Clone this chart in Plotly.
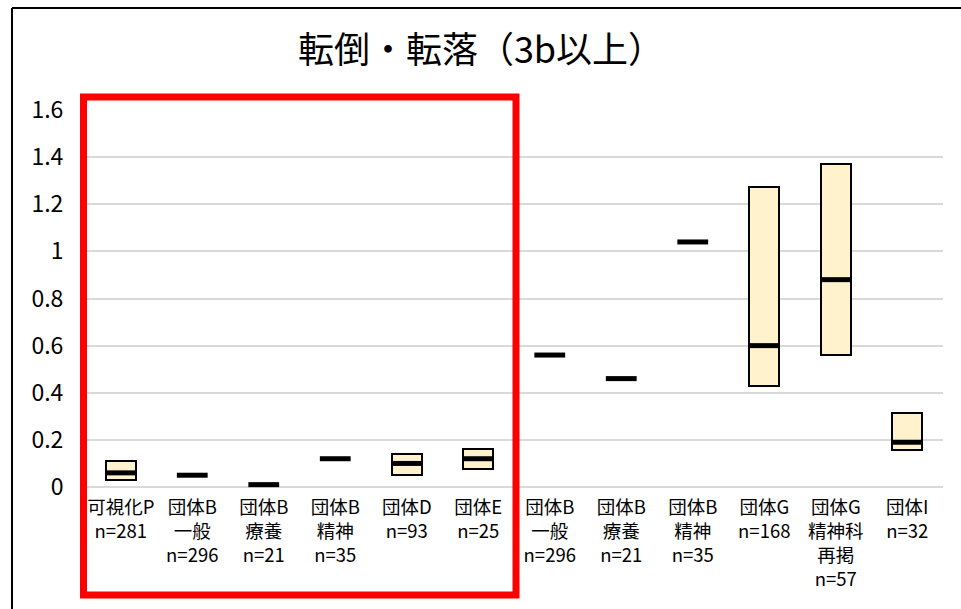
import plotly.graph_objects as go

# Groups (x categories)
labels = [
    "可視化P<br>n=281",
    "団体B<br>一般<br>n=296",
    "団体B<br>療養<br>n=21",
    "団体B<br>精神<br>n=35",
    "団体D<br>n=93",
    "団体E<br>n=25",
    "団体B<br>一般<br>n=296",
    "団体B<br>療養<br>n=21",
    "団体B<br>精神<br>n=35",
    "団体G<br>n=168",
    "団体G<br>精神科<br>再掲<br>n=57",
    "団体I<br>n=32",
]

# Range (low / high) and central value for each group
low = [0.03, 0.05, 0.01, 0.12, 0.05, 0.075, 0.56, 0.46, 1.04, 0.43, 0.56, 0.155]
high = [0.11, 0.05, 0.01, 0.12, 0.14, 0.16, 0.56, 0.46, 1.04, 1.275, 1.37, 0.315]
median = [0.06, 0.05, 0.01, 0.12, 0.10, 0.12, 0.56, 0.46, 1.04, 0.60, 0.88, 0.19]

y_ticks = [0, 0.2, 0.4, 0.6, 0.8, 1.0, 1.2, 1.4, 1.6]
y_tick_text = ["0", "0.2", "0.4", "0.6", "0.8", "1", "1.2", "1.4", "1.6"]

FONT = "Noto Sans CJK JP"
xs = list(range(len(labels)))

fig = go.Figure()

# Floating range boxes
fig.add_trace(go.Bar(
    x=xs,
    base=low,
    y=[h - l for h, l in zip(high, low)],
    width=0.42,
    marker=dict(color="#FFF2CC", line=dict(color="black", width=2)),
    hoverinfo="skip",
    showlegend=False,
))

# Central value bars (line-ew length is 1.4 x marker size)
fig.add_trace(go.Scatter(
    x=xs,
    y=median,
    mode="markers",
    marker=dict(symbol="line-ew", size=22, color="black",
                line=dict(color="black", width=5)),
    cliponaxis=False,
    showlegend=False,
))

W, H = 961, 609
ML, MR, MT, MB = 85, 18, 110, 122
pw, ph = W - ML - MR, H - MT - MB


def px_x(p):
    return (p - ML) / pw


def px_y(p):
    return (H - MB - p) / ph


shapes = [
    # outer frame (top and left edges)
    dict(type="line", xref="paper", yref="paper",
         x0=px_x(12), x1=px_x(12), y0=px_y(8), y1=px_y(640),
         line=dict(color="black", width=2)),
    dict(type="line", xref="paper", yref="paper",
         x0=px_x(12), x1=px_x(1000), y0=px_y(8), y1=px_y(8),
         line=dict(color="black", width=2)),
    # highlight box around the first six groups
    dict(type="rect", xref="paper", yref="paper",
         x0=px_x(83.5), x1=px_x(516), y0=px_y(595), y1=px_y(97),
         line=dict(color="#FF0000", width=7), fillcolor="rgba(0,0,0,0)"),
]

fig.update_layout(
    width=W, height=H,
    margin=dict(l=ML, r=MR, t=MT, b=MB),
    paper_bgcolor="white",
    plot_bgcolor="white",
    font=dict(family=FONT, color="black"),
    title=dict(text="転倒・転落（3b以上）", xref="container", x=481 / W,
               xanchor="center", yref="container", y=1 - 50 / H,
               yanchor="middle", font=dict(size=36, family=FONT)),
    bargap=0,
    shapes=shapes,
    showlegend=False,
)

fig.update_xaxes(
    range=[-0.5, len(labels) - 0.5],
    tickmode="array", tickvals=xs, ticktext=labels,
    tickfont=dict(size=18.5, family=FONT),
    tickangle=0,
    showgrid=False, zeroline=False, showline=False,
    ticks="outside", ticklen=4, tickcolor="rgba(0,0,0,0)",
)

fig.update_yaxes(
    range=[0, 1.6],
    tickmode="array", tickvals=y_ticks, ticktext=y_tick_text,
    tickfont=dict(size=23, family=FONT),
    showgrid=True, gridcolor="#D9D9D9", gridwidth=2,
    zeroline=True, zerolinecolor="#D9D9D9", zerolinewidth=2,
    showline=False,
    ticks="outside", ticklen=16, tickcolor="rgba(0,0,0,0)",
)

fig.write_html("out.html")
